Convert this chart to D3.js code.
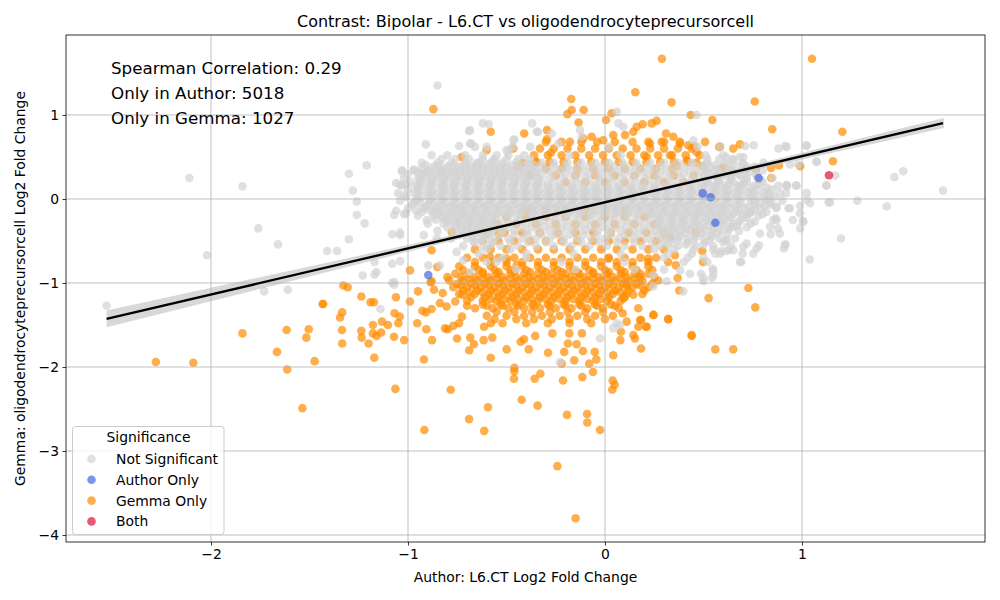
<!DOCTYPE html>
<html>
<head>
<meta charset="utf-8">
<script src="https://cdn.jsdelivr.net/npm/d3@7"></script>
<style>
  body { margin: 0; background: #fff; }
  svg { font-family: "DejaVu Sans", sans-serif; }
</style>
</head>
<body>
<div id="chart"></div>
<script>
// title / labels
var chartTitle = "Contrast: Bipolar - L6.CT vs oligodendrocyteprecursorcell";
var xLabel = "Author: L6.CT Log2 Fold Change";
var yLabel = "Gemma: oligodendrocyteprecursorcell Log2 Fold Change";
var statLines = ["Spearman Correlation: 0.29", "Only in Author: 5018", "Only in Gemma: 1027"];
var xTicks = [-2, -1, 0, 1];
var yTicks = [1, 0, -1, -2, -3, -4];
var categories = ["Not Significant", "Author Only", "Gemma Only", "Both"];
var catColors = ["#d3d3d3", "royalblue", "darkorange", "crimson"];

// dense grey core, one row per y level: [y, x1, x2, ...]
var notSigRows = [
  [0.62, -0.66, -0.60, -0.47, -0.38, 0.02, 0.47],
  [0.52, -0.88, -0.80, -0.71, -0.62, -0.55, -0.49, -0.41, -0.18, 0.08, 0.51, 0.60],
  [0.475, -0.83, -0.76, -0.69, -0.62, -0.56, -0.50, -0.44, -0.38, 0.52, 0.58, 0.65],
  [0.43, -0.93, -0.85, -0.78, -0.71, -0.65, -0.58, -0.52, -0.45, -0.39, -0.32, -0.26, -0.19, -0.12, -0.05, 0.02, 0.09, 0.16, 0.23, 0.30, 0.37, 0.44, 0.52, 0.61, 0.70],
  [0.405, -0.91, -0.84, -0.77, -0.71, -0.65, -0.59, -0.53, -0.47, -0.41, -0.36, 0.50, 0.56, 0.63, 0.70],
  [0.385, -0.87, -0.80, -0.74, -0.68, -0.62, -0.56, -0.50, -0.44, -0.38, -0.32, -0.26, -0.20, -0.14, -0.08, -0.02, 0.04, 0.10, 0.16, 0.22, 0.28, 0.34, 0.40, 0.46, 0.53, 0.60, 0.67, 0.76],
  [0.36, -0.93, -0.86, -0.80, -0.74, -0.68, -0.62, -0.56, -0.50, -0.44, -0.38, 0.51, 0.57, 0.64, 0.72],
  [0.34, -0.97, -0.90, -0.83, -0.77, -0.71, -0.65, -0.59, -0.53, -0.47, -0.41, -0.35, -0.29, -0.23, -0.17, -0.11, -0.05, 0.01, 0.07, 0.13, 0.19, 0.25, 0.31, 0.37, 0.43, 0.49, 0.56, 0.63, 0.71, 0.80],
  [0.315, -0.95, -0.89, -0.83, -0.77, -0.71, -0.65, -0.59, -0.53, -0.47, -0.41, -0.35, 0.52, 0.58, 0.65, 0.73],
  [0.295, -1.00, -0.93, -0.86, -0.80, -0.74, -0.68, -0.62, -0.56, -0.50, -0.44, -0.38, -0.32, -0.26, -0.20, -0.14, -0.08, -0.02, 0.04, 0.10, 0.16, 0.22, 0.28, 0.34, 0.40, 0.46, 0.53, 0.60, 0.68, 0.77],
  [0.27, -0.91, -0.85, -0.79, -0.73, -0.67, -0.61, -0.55, -0.49, -0.43, -0.37, 0.50, 0.56, 0.62, 0.69, 0.77],
  [0.25, -1.02, -0.95, -0.88, -0.82, -0.76, -0.70, -0.64, -0.58, -0.52, -0.46, -0.40, -0.34, -0.28, -0.22, -0.16, -0.10, -0.04, 0.02, 0.08, 0.14, 0.20, 0.26, 0.32, 0.38, 0.44, 0.50, 0.57, 0.64, 0.72, 0.85],
  [0.225, -0.94, -0.88, -0.82, -0.76, -0.70, -0.64, -0.58, -0.52, -0.46, -0.40, -0.34, 0.52, 0.58, 0.64, 0.71, 0.79],
  [0.205, -0.99, -0.92, -0.86, -0.80, -0.74, -0.68, -0.62, -0.56, -0.50, -0.44, -0.38, -0.32, -0.26, -0.20, -0.14, -0.08, -0.02, 0.04, 0.10, 0.16, 0.22, 0.28, 0.34, 0.40, 0.46, 0.52, 0.58, 0.65, 0.72, 0.80],
  [0.18, -1.01, -0.94, -0.88, -0.82, -0.76, -0.70, -0.64, -0.58, -0.52, -0.46, -0.40, -0.34, 0.51, 0.57, 0.63, 0.70, 0.78],
  [0.16, -1.03, -0.96, -0.89, -0.83, -0.77, -0.71, -0.65, -0.59, -0.53, -0.47, -0.41, -0.35, -0.29, -0.23, -0.17, -0.11, -0.05, 0.01, 0.07, 0.13, 0.19, 0.25, 0.31, 0.37, 0.43, 0.49, 0.55, 0.61, 0.68, 0.76, 0.88],
  [0.135, -0.95, -0.89, -0.83, -0.77, -0.71, -0.65, -0.59, -0.53, -0.47, -0.41, -0.35, -0.29, -0.23, -0.17, -0.11, -0.05, 0.01, 0.07, 0.13, 0.19, 0.25, 0.31, 0.37, 0.43, 0.49, 0.55, 0.61, 0.67, 0.74, 0.82],
  [0.115, -1.00, -0.93, -0.87, -0.81, -0.75, -0.69, -0.63, -0.57, -0.51, -0.45, -0.39, -0.33, -0.27, -0.21, -0.15, -0.09, -0.03, 0.03, 0.09, 0.15, 0.21, 0.27, 0.33, 0.39, 0.45, 0.51, 0.57, 0.63, 0.70, 0.78, 0.85],
  [0.09, -0.95, -0.88, -0.82, -0.76, -0.70, -0.64, -0.58, -0.52, -0.46, -0.40, -0.34, -0.28, -0.22, -0.16, -0.10, -0.04, 0.02, 0.08, 0.14, 0.20, 0.26, 0.32, 0.38, 0.44, 0.50, 0.56, 0.62, 0.68, 0.75, 0.83],
  [0.07, -1.05, -0.97, -0.90, -0.84, -0.78, -0.72, -0.66, -0.60, -0.54, -0.48, -0.42, -0.36, -0.30, -0.24, -0.18, -0.12, -0.06, 0.00, 0.06, 0.12, 0.18, 0.24, 0.30, 0.36, 0.42, 0.48, 0.54, 0.60, 0.66, 0.73, 0.81, 0.92],
  [0.045, -1.02, -0.95, -0.89, -0.83, -0.77, -0.71, -0.65, -0.59, -0.53, -0.47, -0.41, -0.35, -0.29, -0.23, -0.17, -0.11, -0.05, 0.01, 0.07, 0.13, 0.19, 0.25, 0.31, 0.37, 0.43, 0.49, 0.55, 0.61, 0.67, 0.74, 0.82],
  [0.025, -1.01, -0.93, -0.87, -0.81, -0.75, -0.69, -0.63, -0.57, -0.51, -0.45, -0.39, -0.33, -0.27, -0.21, -0.15, -0.09, -0.03, 0.03, 0.09, 0.15, 0.21, 0.27, 0.33, 0.39, 0.45, 0.51, 0.57, 0.63, 0.70, 0.78, 0.86],
  [0.0, -0.95, -0.88, -0.82, -0.76, -0.70, -0.64, -0.58, -0.52, -0.46, -0.40, -0.34, -0.28, -0.22, -0.16, -0.10, -0.04, 0.02, 0.08, 0.14, 0.20, 0.26, 0.32, 0.38, 0.44, 0.50, 0.56, 0.62, 0.68, 0.75, 0.83],
  [-0.02, -1.04, -0.96, -0.89, -0.83, -0.77, -0.71, -0.65, -0.59, -0.53, -0.47, -0.41, -0.35, -0.29, -0.23, -0.17, -0.11, -0.05, 0.01, 0.07, 0.13, 0.19, 0.25, 0.31, 0.37, 0.43, 0.49, 0.55, 0.61, 0.67, 0.74, 0.82, 0.90],
  [-0.045, -0.94, -0.87, -0.81, -0.75, -0.69, -0.63, -0.57, -0.51, -0.45, -0.39, -0.33, -0.27, -0.21, -0.15, -0.09, -0.03, 0.03, 0.09, 0.15, 0.21, 0.27, 0.33, 0.39, 0.45, 0.51, 0.57, 0.63, 0.69, 0.76, 0.84],
  [-0.065, -0.98, -0.90, -0.83, -0.77, -0.71, -0.65, -0.59, -0.53, -0.47, -0.41, -0.35, -0.29, -0.23, -0.17, -0.11, -0.05, 0.01, 0.07, 0.13, 0.19, 0.25, 0.31, 0.37, 0.43, 0.49, 0.55, 0.61, 0.68, 0.76, 0.84],
  [-0.09, -0.91, -0.85, -0.79, -0.73, -0.67, -0.61, -0.55, -0.49, -0.43, -0.37, -0.31, -0.25, -0.19, -0.13, -0.07, -0.01, 0.05, 0.11, 0.17, 0.23, 0.29, 0.35, 0.41, 0.47, 0.53, 0.59, 0.66, 0.73, 0.81],
  [-0.11, -1.00, -0.92, -0.86, -0.80, -0.74, -0.68, -0.62, -0.56, -0.50, -0.44, -0.38, -0.32, -0.26, -0.20, -0.14, -0.08, -0.02, 0.04, 0.10, 0.16, 0.22, 0.28, 0.34, 0.40, 0.46, 0.52, 0.58, 0.64, 0.71, 0.79, 0.87],
  [-0.135, -0.96, -0.89, -0.83, -0.77, -0.71, -0.65, -0.59, -0.53, -0.47, -0.41, -0.35, -0.29, -0.23, -0.17, -0.11, -0.05, 0.01, 0.07, 0.13, 0.19, 0.25, 0.31, 0.37, 0.43, 0.49, 0.55, 0.61, 0.68, 0.76],
  [-0.155, -0.93, -0.84, -0.78, -0.72, -0.66, -0.60, -0.54, -0.48, -0.42, -0.36, -0.30, -0.24, -0.18, -0.12, -0.06, 0.00, 0.06, 0.12, 0.18, 0.24, 0.30, 0.36, 0.42, 0.48, 0.54, 0.60, 0.67, 0.74, 0.82],
  [-0.18, -0.85, -0.79, -0.73, -0.67, -0.61, -0.55, -0.49, -0.43, -0.37, -0.31, -0.25, -0.19, -0.13, -0.07, -0.01, 0.05, 0.11, 0.17, 0.23, 0.29, 0.35, 0.41, 0.47, 0.53, 0.59, 0.65, 0.72, 0.80],
  [-0.20, -0.95, -0.87, -0.81, -0.75, -0.69, -0.63, -0.57, -0.51, -0.45, -0.39, -0.33, -0.27, -0.21, -0.15, -0.09, -0.03, 0.03, 0.09, 0.15, 0.21, 0.27, 0.33, 0.39, 0.45, 0.51, 0.57, 0.63, 0.70, 0.78],
  [-0.225, -0.82, -0.76, -0.70, -0.64, -0.58, 0.27, 0.33, 0.39, 0.45, 0.51, 0.57, 0.64, 0.72],
  [-0.245, -0.86, -0.79, -0.73, -0.67, -0.61, -0.55, -0.49, -0.43, -0.37, -0.31, -0.25, -0.19, -0.13, -0.07, -0.01, 0.05, 0.11, 0.17, 0.23, 0.29, 0.35, 0.41, 0.47, 0.54, 0.61, 0.69],
  [-0.27, -0.80, -0.74, -0.68, -0.62, -0.56, 0.28, 0.34, 0.40, 0.46, 0.53, 0.60, 0.68, 0.76],
  [-0.29, -0.90, -0.82, -0.76, -0.70, -0.64, -0.58, -0.52, -0.46, -0.40, -0.34, -0.28, -0.22, -0.16, -0.10, -0.04, 0.02, 0.08, 0.14, 0.20, 0.26, 0.32, 0.38, 0.44, 0.50, 0.57, 0.65, 0.74],
  [-0.315, -0.76, -0.70, -0.64, -0.58, 0.27, 0.33, 0.39, 0.45, 0.52, 0.59, 0.67],
  [-0.335, -0.80, -0.73, -0.67, -0.61, -0.55, -0.49, -0.43, -0.37, -0.31, -0.25, -0.19, -0.13, -0.07, -0.01, 0.05, 0.11, 0.17, 0.23, 0.29, 0.35, 0.41, 0.48, 0.55, 0.63, 0.72],
  [-0.36, -0.73, -0.67, -0.61, 0.29, 0.35, 0.41, 0.48, 0.55, 0.63],
  [-0.38, -0.85, -0.77, -0.70, -0.64, -0.58, -0.52, -0.46, -0.40, -0.34, -0.28, -0.22, -0.16, -0.10, -0.04, 0.02, 0.08, 0.14, 0.20, 0.26, 0.32, 0.38, 0.44, 0.51, 0.59, 0.68],
  [-0.405, -0.70, -0.64, -0.58, 0.28, 0.34, 0.41, 0.49, 0.57],
  [-0.425, -0.74, -0.67, -0.60, -0.53, -0.46, -0.39, -0.32, -0.25, -0.18, -0.11, -0.04, 0.03, 0.10, 0.17, 0.24, 0.31, 0.38, 0.46, 0.54, 0.62],
  [-0.45, -0.67, -0.60, 0.31, 0.38, 0.46, 0.54],
  [-0.47, -0.78, -0.70, -0.63, -0.56, -0.49, -0.42, -0.35, -0.28, -0.21, -0.14, -0.07, 0.00, 0.07, 0.14, 0.21, 0.28, 0.35, 0.42, 0.50, 0.58, 0.66],
  [-0.495, -0.62, 0.30, 0.37, 0.45, 0.53, 0.61],
  [-0.515, -0.66, -0.57, -0.48, -0.39, -0.30, -0.21, -0.12, -0.03, 0.06, 0.15, 0.24, 0.33, 0.42, 0.51, 0.60],
  [-0.54, -0.58, 0.32, 0.41, 0.50],
  [-0.56, -0.72, -0.62, -0.53, -0.44, -0.35, -0.26, -0.17, -0.08, 0.01, 0.10, 0.19, 0.28, 0.37, 0.46, 0.55, 0.64],
  [-0.60, -0.60, -0.48, 0.25, 0.35, 0.45, 0.55, 0.63],
  [-0.65, -0.64, -0.40, -0.16, 0.08, 0.32, 0.44, 0.56],
  [-0.70, -0.52, -0.40, 0.30, 0.42, 0.50],
  [-0.75, -0.55, -0.22, 0.10, 0.40, 0.52],
  [-0.84, -0.45, -0.15, 0.15, 0.30]
];

// scattered grey points around the core
var notSigPoints = [
  [-2.53, -1.27], [-2.11, 0.25], [-2.02, -0.67], [-1.84, 0.15], [-1.76, -0.35], [-1.66, -0.54], [-1.73, -1.10], [-1.61, -1.08],
  [-1.41, -0.62], [-1.36, -0.62], [-1.30, -0.48], [-1.30, 0.30], [-1.21, 0.40], [-1.28, 0.10], [-1.26, -0.03], [-1.26, -0.19],
  [-1.22, -0.29], [-1.23, -0.91], [-1.17, -0.90], [-1.16, -0.87], [-1.17, -0.75], [-1.14, -1.31],
  [-1.06, 0.19], [-1.04, 0.17], [-1.03, 0.33], [-1.06, -0.14], [-1.07, -0.19], [-1.02, -0.18], [-1.08, -0.42], [-1.04, -0.43],
  [-1.04, -0.40], [-1.08, -0.77], [-1.04, -0.74], [-1.07, -0.99], [-1.07, -1.02], [-1.08, -1.00],
  [-0.85, 1.35], [-0.62, 0.90], [-0.59, 0.89], [-0.69, 0.81], [-0.37, 0.90], [-0.34, 0.80], [-0.46, 0.71], [-0.49, 0.58],
  [-0.91, 0.65], [-0.74, 0.63], [-0.68, 0.66], [-1.03, 0.34], [-0.97, 0.35], [-0.91, 0.31], [-0.83, 0.31], [-0.97, -0.05],
  [-1.01, -0.17], [-0.82, 0.15], [-0.685, 0.82], [-0.685, 0.66], [-0.635, 0.44], [-0.567, 0.46], [-0.50, 0.58], [-0.465, 0.70],
  [-0.347, 0.80], [-0.27, 0.78], [-0.237, 0.66], [-0.127, 0.82], [-0.118, 0.74], [0.06, 1.04], [0.068, 0.90], [0.093, 0.86], [0.465, 1.0],
  [-0.905, -0.25], [-0.872, -0.15], [-0.821, -0.23], [-0.77, -0.11], [-0.72, -0.19], [-0.92, -0.43], [-0.854, -0.47],
  [-0.897, -0.79], [-0.838, -0.79], [-0.753, -0.63], [-0.719, -0.73], [-0.685, -0.87], [-0.60, -0.75], [-0.668, -0.51],
  [-0.228, -1.94], [-0.025, -1.66], [0.059, -1.48], [0.042, -1.54], [0.076, -1.50],
  [0.55, -0.905], [0.50, -0.98], [0.397, -1.10], [0.313, -0.98], [0.245, -1.04], [0.245, -0.905],
  [0.922, 0.62], [0.88, 0.60], [1.024, 0.63], [1.075, 0.44], [0.981, 0.41], [0.922, 0.17], [0.973, 0.16], [1.024, 0.07],
  [1.125, 0.16], [1.142, -0.04], [1.041, -0.05], [0.99, -0.17], [1.007, -0.27], [0.931, -0.11], [0.871, -0.25], [0.838, -0.33],
  [0.787, -0.41], [0.888, -0.41], [0.914, -0.55], [0.719, -0.53], [0.753, -0.65], [0.685, -0.75], [0.651, -0.61], [0.584, -0.65],
  [0.55, -0.85], [0.499, -0.94], [0.431, -0.89], [0.381, -0.85], [0.618, -0.49], [0.651, -0.33], [0.736, -0.17], [0.821, -0.01],
  [0.753, 0.07], [0.685, 0.15], [0.651, 0.31], [0.702, 0.50], [0.584, 0.62], [0.448, 0.70],
  [1.716, 0.10], [1.514, 0.33], [1.469, 0.26], [1.43, -0.09], [1.281, -0.02], [1.198, -0.47], [1.135, -0.04], [1.123, 0.16],
  [1.169, 0.28], [1.073, 0.45], [1.039, -0.72], [1.022, 0.64], [0.915, 0.63], [0.755, 0.64], [0.711, 0.63], [0.991, -0.08],
  [1.024, -0.01], [1.005, -0.26], [0.991, -0.35], [0.97, 0.16], [0.925, 0.16], [0.915, -0.54], [0.909, -0.59], [0.939, -0.11],
  [0.954, -0.25], [0.866, -0.23], [0.877, -0.35], [0.841, -0.42], [0.782, -0.55], [0.77, -0.59], [0.692, -0.75], [0.699, -0.65],
  [0.702, -0.57], [0.589, -0.62], [0.618, -0.62], [0.543, -0.94], [0.547, -0.83], [0.487, -0.89],
  [0.616, 0.50], [0.685, 0.50], [0.651, 0.46], [0.719, 0.39], [0.804, 0.43], [0.939, 0.41], [0.888, 0.07], [0.922, 0.15],
  [0.838, 0.03], [0.787, -0.05], [0.871, -0.09], [0.854, -0.25]
];

// dense orange bands (mostly under the grey core): [y, x1, x2, ...]
var gemmaRows = [
  [0.68, -0.30, -0.22, -0.12, -0.04, 0.05, 0.14, 0.22, 0.30, 0.38],
  [0.60, -0.33, -0.26, -0.19, -0.12, -0.05, 0.02, 0.09, 0.16, 0.23, 0.30, 0.37, 0.44],
  [0.52, -0.36, -0.29, -0.22, -0.15, -0.08, -0.01, 0.06, 0.13, 0.20, 0.27, 0.34, 0.41, 0.48],
  [0.44, -0.35, -0.28, -0.21, -0.14, -0.07, 0.00, 0.07, 0.14, 0.21, 0.28, 0.35, 0.42],
  [0.36, -0.30, -0.22, -0.14, -0.06, 0.02, 0.10, 0.18, 0.26, 0.34],
  [0.28, -0.25, -0.15, -0.05, 0.05, 0.15, 0.25, 0.35, 0.45],
  [0.20, -0.20, -0.10, 0.00, 0.10, 0.20, 0.30, 0.40],
  [-0.12, -0.40, -0.30, -0.20, -0.10, 0.00, 0.10],
  [-0.21, -0.50, -0.40, -0.30, -0.20, -0.10, 0.00, 0.10, 0.20],
  [-0.30, -0.55, -0.45, -0.35, -0.25, -0.15, -0.05, 0.05, 0.15, 0.25],
  [-0.40, -0.60, -0.51, -0.42, -0.33, -0.24, -0.15, -0.06, 0.03, 0.12, 0.21, 0.30],
  [-0.50, -0.62, -0.54, -0.46, -0.38, -0.30, -0.22, -0.14, -0.06, 0.02, 0.10, 0.18, 0.26],
  [-0.60, -0.66, -0.58, -0.50, -0.42, -0.34, -0.26, -0.18, -0.10, -0.02, 0.06, 0.14, 0.22, 0.30],
  [-0.70, -0.70, -0.62, -0.54, -0.46, -0.38, -0.30, -0.22, -0.14, -0.06, 0.02, 0.10, 0.18, 0.26],
  [-0.75, -0.66, -0.58, -0.50, -0.42, -0.34, -0.26, -0.18, -0.10, -0.02, 0.06, 0.14, 0.22],
  [-0.80, -0.74, -0.66, -0.58, -0.50, -0.42, -0.34, -0.26, -0.18, -0.10, -0.02, 0.06, 0.14, 0.22],
  [-0.845, -0.72, -0.64, -0.56, -0.48, -0.40, -0.32, -0.24, -0.16, -0.08, 0.00, 0.08, 0.16, 0.24],
  [-0.87, -0.62, -0.54, -0.46, -0.38, -0.30, -0.22, -0.14, -0.06, 0.02, 0.10],
  [-0.89, -0.76, -0.69, -0.62, -0.55, -0.48, -0.41, -0.34, -0.27, -0.20, -0.13, -0.06, 0.01, 0.08, 0.15, 0.22],
  [-0.93, -0.80, -0.73, -0.66, -0.59, -0.52, -0.45, -0.38, -0.31, -0.24, -0.17, -0.10, -0.03, 0.04, 0.11, 0.18, 0.25],
  [-0.95, -0.69, -0.62, -0.55, -0.48, -0.41, -0.34, -0.27, -0.20, -0.13, -0.06, 0.01, 0.08, 0.15],
  [-0.97, -0.79, -0.72, -0.65, -0.58, -0.51, -0.44, -0.37, -0.30, -0.23, -0.16, -0.09, -0.02, 0.05, 0.12, 0.19, 0.27],
  [-1.01, -0.75, -0.68, -0.61, -0.54, -0.47, -0.40, -0.33, -0.26, -0.19, -0.12, -0.05, 0.02, 0.09, 0.16, 0.24],
  [-1.03, -0.73, -0.66, -0.59, -0.52, -0.45, -0.38, -0.31, -0.24, -0.17, -0.10, -0.03, 0.04, 0.11, 0.18],
  [-1.05, -0.77, -0.70, -0.63, -0.56, -0.49, -0.42, -0.35, -0.28, -0.21, -0.14, -0.07, 0.00, 0.07, 0.14, 0.22],
  [-1.09, -0.72, -0.65, -0.58, -0.51, -0.44, -0.37, -0.30, -0.23, -0.16, -0.09, -0.02, 0.05, 0.12, 0.20],
  [-1.11, -0.69, -0.62, -0.55, -0.48, -0.41, -0.34, -0.27, -0.20, -0.13, -0.06, 0.01, 0.08],
  [-1.13, -0.74, -0.66, -0.59, -0.52, -0.45, -0.38, -0.31, -0.24, -0.17, -0.10, -0.03, 0.04, 0.11, 0.19],
  [-1.17, -0.68, -0.61, -0.54, -0.47, -0.40, -0.33, -0.26, -0.19, -0.12, -0.05, 0.02, 0.10],
  [-1.19, -0.58, -0.51, -0.44, -0.37, -0.30, -0.23, -0.16, -0.09, -0.02],
  [-1.21, -0.70, -0.62, -0.55, -0.48, -0.41, -0.34, -0.27, -0.20, -0.13, -0.06, 0.01, 0.08],
  [-1.255, -0.62, -0.53, -0.45, -0.37, -0.29, -0.21, -0.13, -0.05, 0.03],
  [-1.27, -0.70, -0.60, -0.52, -0.44, -0.36, -0.28, -0.20, -0.12, -0.04, 0.05],
  [-1.30, -0.66, -0.57, -0.49, -0.41, -0.33, -0.25, -0.17, -0.09, -0.01, 0.07],
  [-1.345, -0.55, -0.46, -0.37, -0.28, -0.19, -0.10, -0.01],
  [-1.39, -0.60, -0.50, -0.41, -0.32, -0.23, -0.14, -0.05, 0.04],
  [-1.43, -0.56, -0.45, -0.36, -0.27, -0.18, -0.09, 0.00],
  [-1.48, -0.52, -0.40, -0.29, -0.18, -0.07]
];

// scattered orange points
var gemmaPoints = [
  [-2.28, -1.94], [-2.09, -1.95], [-1.84, -1.60], [-1.665, -1.82], [-1.613, -2.03], [-1.616, -1.56], [-1.516, -1.65], [-1.504, -1.55],
  [-1.474, -1.93], [-1.433, -1.25], [-1.345, -1.41], [-1.334, -1.35], [-1.335, -1.56], [-1.334, -1.72], [-1.328, -1.03], [-1.306, -1.05],
  [-1.237, -1.16], [-1.19, -1.23], [-1.173, -1.23], [-1.237, -1.57], [-1.235, -1.65], [-1.20, -1.72], [-1.171, -1.89], [-1.178, -1.50],
  [-1.178, -1.60], [-1.159, -1.63], [-1.132, -1.46], [-1.136, -1.59], [-1.102, -1.50], [-1.061, -1.17], [-1.068, -1.36], [-1.042, -1.40],
  [-1.049, -1.48], [-1.071, -1.64], [-1.019, -1.68], [-1.536, -2.49], [-1.064, -2.26], [-0.917, -2.75], [-0.919, -1.91], [-0.878, -1.68],
  [-0.907, -1.55], [-0.953, -1.48], [-0.99, -1.22], [-0.949, -1.10], [-0.927, -1.33], [-0.909, -1.35], [-0.88, -1.31], [-0.885, -0.99],
  [-0.838, -1.24], [-0.824, -1.12], [-0.804, -1.28], [-0.76, -1.22], [-0.812, -1.54], [-0.799, -1.55], [-0.77, -1.51], [-0.741, -1.48],
  [-0.751, -1.66], [-0.783, -2.27], [-0.724, -1.14], [-0.726, -1.40], [-0.684, -1.65], [-0.689, -1.80], [-0.665, -1.73], [-0.69, -2.62],
  [-0.613, -2.76], [-0.594, -2.48], [-0.58, -1.89], [-0.616, -1.68], [-0.614, -1.52], [-0.572, -1.65], [-0.58, -1.48], [-0.499, -1.79],
  [-0.46, -2.01], [-0.462, -2.14], [-0.46, -2.05], [-0.423, -2.39], [-0.357, -2.14], [-0.328, -2.08], [-0.342, -2.46], [-0.354, -1.63],
  [-0.289, -1.83], [-0.267, -1.60], [-0.242, -3.18], [-0.22, -1.96], [-0.213, -2.16], [-0.193, -2.57], [-0.156, -1.92], [-0.149, -3.80],
  [-0.112, -1.81], [-0.115, -2.12], [-0.091, -2.56], [-0.09, -2.66], [-0.08, -1.96], [-0.052, -1.82], [-0.044, -1.91], [-0.061, -2.06],
  [-0.025, -2.75], [0.042, -1.86], [0.039, -2.16], [0.049, -2.21], [0.037, -2.27], [0.183, -1.78], [0.152, -1.66], [0.144, -1.62],
  [0.247, -1.38], [0.321, -1.43], [0.44, -1.63], [0.078, -1.68], [0.081, -1.58], [0.11, -1.46], [0.09, -1.36],
  [-0.428, -1.70], [-0.411, -1.67], [-0.387, -1.79], [-0.207, -1.82], [-0.188, -1.72], [-0.181, -1.60], [-0.144, -1.73], [-0.117, -1.60],
  [0.184, -1.44], [0.208, -1.52], [0.169, -1.52], [-1.431, -1.25], [-0.99, -0.85],
  [0.289, 1.67], [0.154, 1.27], [0.338, 1.15], [0.76, 1.16], [1.051, 1.67], [1.205, 0.80], [-0.871, 1.07], [-0.171, 1.19],
  [-0.169, 1.06], [-0.191, 1.01], [-0.108, 1.06], [-0.134, 0.91], [0.034, 1.02], [0.005, 0.94], [0.435, 1.0], [0.545, 0.94],
  [0.849, 0.83], [-0.58, 0.80], [-0.41, 0.78], [-0.294, 0.82], [-0.294, 0.71], [-0.601, 0.58], [-0.465, 0.60], [-0.728, 0.50],
  [-0.178, 0.68], [-0.274, 0.55], [-0.42, 0.43], [-0.443, 0.38], [-0.381, 0.28], [-0.347, 0.44], [0.161, 0.86], [0.191, 0.89],
  [0.237, 0.90], [0.262, 0.93], [0.144, 0.80], [0.31, 0.78], [0.347, 0.74], [0.381, 0.66], [0.423, 0.64], [0.465, 0.56],
  [0.508, 0.68], [0.584, 0.62], [0.651, 0.60], [0.685, 0.65], [0.601, 0.37], [0.042, 0.76], [0.102, 0.76], [-0.009, 0.70],
  [-0.11, 0.72], [-0.068, 0.74], [0.228, 0.66], [0.288, 0.68], [0.212, 0.50], [0.33, 0.52], [0.415, 0.46], [0.364, 0.39],
  [0.465, 0.43], [0.58, 0.62], [0.452, 0.63], [1.157, 0.45], [0.991, 0.39], [0.843, 0.37], [0.883, 0.40], [0.844, 0.25],
  [0.766, 0.35], [0.594, 0.37], [0.497, 0.39],
  [0.457, -0.40], [0.494, -0.62], [0.497, -0.75], [0.728, -1.06], [0.526, -1.18], [0.763, -1.29], [0.44, -1.62], [0.56, -1.79],
  [0.651, -1.79], [0.33, -0.45], [0.355, -0.67], [0.36, -0.79], [0.321, -0.75], [0.369, -0.94], [0.377, -1.09], [0.321, -1.43],
  [0.245, -1.38], [0.212, -1.52], [0.178, -1.44], [0.169, -1.30], [0.144, -1.14], [0.093, -1.18], [0.11, -1.02], [0.178, -0.89],
  [0.22, -0.71], [0.017, -0.71], [-0.88, -0.61], [-0.778, -0.39], [-0.851, -0.81], [-0.88, -0.98], [-0.868, -1.08], [-0.538, -0.41],
  [-0.584, -0.69], [-0.499, -0.71], [-0.448, -0.79]
];

var authorOnlyPoints = [[-0.897, -0.905], [0.496, 0.067], [0.536, 0.02], [0.56, -0.282], [0.78, 0.25]];
var bothPoints = [[1.137, 0.282]];

// regression fit, with the half-width of its band
var fitSlope = 0.549, fitIntercept = -0.039;
var bandX = [-2.53, -2.0, -1.5, -1.0, -0.5, 0.0, 0.5, 1.0, 1.5, 1.72];
var bandHalf = [0.10, 0.08, 0.06, 0.04, 0.025, 0.018, 0.025, 0.04, 0.055, 0.06];

function rowsToPoints(rows) {
  return rows.flatMap(function (r) { return r.slice(1).map(function (x) { return [x, r[0]]; }); });
}

var notSig = rowsToPoints(notSigRows).concat(notSigPoints);
var gemma = rowsToPoints(gemmaRows).concat(gemmaPoints);

var W = 1000, H = 600;
var margin = { top: 35, right: 15, bottom: 58, left: 66 };

var x = d3.scaleLinear().domain([-2.736, 1.929]).range([margin.left, W - margin.right]);
var y = d3.scaleLinear().domain([-4.083, 1.952]).range([H - margin.bottom, margin.top]);

var svg = d3.select("#chart").append("svg").attr("width", W).attr("height", H);

var alpha = 0.7, r = 4.3;

function drawPoints(pts, color) {
  svg.append("g").selectAll("circle").data(pts).join("circle")
    .attr("cx", function (d) { return x(d[0]); })
    .attr("cy", function (d) { return y(d[1]); })
    .attr("r", r)
    .attr("fill", color)
    .attr("fill-opacity", alpha);
}

drawPoints(gemma, catColors[2]);
drawPoints(notSig, catColors[0]);
drawPoints(authorOnlyPoints, catColors[1]);
drawPoints(bothPoints, catColors[3]);

// confidence band
var band = bandX.map(function (bx, i) { return { x: bx, h: bandHalf[i] }; });
svg.append("path").datum(band)
  .attr("fill", "#c8c8c8").attr("fill-opacity", 0.7)
  .attr("d", d3.area()
    .x(function (d) { return x(d.x); })
    .y0(function (d) { return y(fitIntercept + fitSlope * d.x - d.h); })
    .y1(function (d) { return y(fitIntercept + fitSlope * d.x + d.h); }));

// grid
svg.append("g").selectAll("line").data(xTicks).join("line")
  .attr("x1", function (d) { return x(d); }).attr("x2", function (d) { return x(d); })
  .attr("y1", y.range()[0]).attr("y2", y.range()[1])
  .attr("stroke", "#b0b0b0").attr("stroke-width", 0.8);
svg.append("g").selectAll("line").data(yTicks).join("line")
  .attr("y1", function (d) { return y(d); }).attr("y2", function (d) { return y(d); })
  .attr("x1", x.range()[0]).attr("x2", x.range()[1])
  .attr("stroke", "#b0b0b0").attr("stroke-width", 0.8);

// fit line over the data range
var allX = notSig.concat(gemma, authorOnlyPoints, bothPoints).map(function (d) { return d[0]; });
var fitEnds = d3.extent(allX);
svg.append("path").datum(fitEnds)
  .attr("fill", "none").attr("stroke", "black").attr("stroke-width", 2.3)
  .attr("d", d3.line()
    .x(function (d) { return x(d); })
    .y(function (d) { return y(fitIntercept + fitSlope * d); }));

// axes
var fmt = d3.format("d");
var xAxis = svg.append("g").attr("transform", "translate(0," + y.range()[0] + ")")
  .call(d3.axisBottom(x).tickValues(xTicks).tickFormat(fmt).tickSize(3.5).tickPadding(3.5).tickSizeOuter(0));
var yAxis = svg.append("g").attr("transform", "translate(" + x.range()[0] + ",0)")
  .call(d3.axisLeft(y).tickValues(yTicks).tickFormat(fmt).tickSize(3.5).tickPadding(3.5).tickSizeOuter(0));
[xAxis, yAxis].forEach(function (a) {
  a.select(".domain").remove();
  a.selectAll("text").attr("font-size", "13.9px").attr("fill", "black").attr("font-family", "DejaVu Sans");
  a.selectAll(".tick line").attr("stroke", "black").attr("stroke-width", 0.8);
});

// frame
svg.append("rect")
  .attr("x", x.range()[0]).attr("y", y.range()[1])
  .attr("width", x.range()[1] - x.range()[0]).attr("height", y.range()[0] - y.range()[1])
  .attr("fill", "none").attr("stroke", "black").attr("stroke-width", 0.8);

// text
svg.append("text").attr("x", (x.range()[0] + x.range()[1]) / 2).attr("y", 27)
  .attr("text-anchor", "middle").attr("font-size", "16px").text(chartTitle);
svg.append("text").attr("x", (x.range()[0] + x.range()[1]) / 2).attr("y", 582)
  .attr("text-anchor", "middle").attr("font-size", "13.9px").text(xLabel);
svg.append("text").attr("transform", "translate(25," + (y.range()[0] + y.range()[1]) / 2 + ") rotate(-90)")
  .attr("text-anchor", "middle").attr("font-size", "13.9px").text(yLabel);

svg.append("g").selectAll("text").data(statLines).join("text")
  .attr("x", 111).attr("y", function (d, i) { return 73.5 + i * 25; })
  .attr("font-size", "16.7px").text(function (d) { return d; });

// legend
var lg = svg.append("g");
lg.append("rect").attr("x", 72.5).attr("y", 426.5).attr("width", 151.5).attr("height", 108)
  .attr("rx", 3).attr("fill", "white").attr("fill-opacity", 0.8)
  .attr("stroke", "#cccccc").attr("stroke-width", 1);
lg.append("text").attr("x", 148.5).attr("y", 442).attr("text-anchor", "middle")
  .attr("font-size", "13.9px").text("Significance");
categories.forEach(function (c, i) {
  var cy = 459 + i * 20.8;
  lg.append("circle").attr("cx", 91.5).attr("cy", cy).attr("r", r)
    .attr("fill", catColors[i]).attr("fill-opacity", alpha);
  lg.append("text").attr("x", 116).attr("y", cy + 5).attr("font-size", "13.9px").text(c);
});
</script>
</body>
</html>
